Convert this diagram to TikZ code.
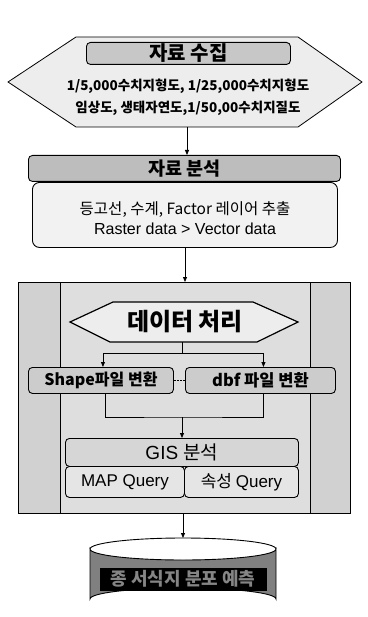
\documentclass[tikz,border=0pt]{standalone}
\usepackage{fontspec}
\setmainfont{Noto Sans CJK KR}
\newfontfamily\lat{Liberation Sans}
\usetikzlibrary{arrows.meta}
\definecolor{hexfill}{gray}{0.93}
\definecolor{titlefill}{gray}{0.78}
\definecolor{headfill}{gray}{0.74}
\definecolor{bodyfill}{gray}{0.95}
\definecolor{sidefill}{gray}{0.82}
\definecolor{midfill}{gray}{0.87}
\definecolor{boxfill}{gray}{0.80}
\definecolor{gisfill}{gray}{0.84}
\definecolor{qfill}{gray}{0.90}
\definecolor{cylfill}{gray}{0.50}
\definecolor{cyltext}{gray}{0.52}
\tikzset{
  arr/.style={-{Triangle[length=5pt,width=4pt]}, line width=0.8pt},
  ln/.style={line width=0.6pt},
  rbox/.style={draw, line width=0.9pt, rounded corners=4pt, inner sep=0pt, anchor=north west},
}
\begin{document}
\begin{tikzpicture}[x=1pt,y=-1pt]
\useasboundingbox (0,0) rectangle (367,617);
% top hexagon
\draw[fill=hexfill, line width=0.8pt] (8,82) -- (76,37) -- (298,37) -- (362,82) -- (298,127) -- (76,127) -- cycle;
\coordinate (hexb) at (187,127);
\node[rbox, fill=titlefill, minimum width=204pt, minimum height=22pt, font=\fontsize{20}{20}\selectfont\bfseries] (t1) at (86,42) {자료 수집};
\node[font=\fontsize{13.5}{14}\selectfont\bfseries] (l1) at (188,86) {1/5,000수치지형도, 1/25,000수치지형도};
\node[font=\fontsize{13.5}{14}\selectfont\bfseries] (l2) at (188,108) {임상도, 생태자연도,1/50,00수치지질도};
% analysis box
\node[rbox, fill=headfill, minimum width=312pt, minimum height=26pt, font=\fontsize{18.5}{18.5}\selectfont\bfseries] (h2) at (28,155) {자료 분석};
\node[rbox, fill=bodyfill, rounded corners=7pt, minimum width=305pt, minimum height=65pt] (b2) at (32,182) {};
\node[font=\fontsize{15.5}{16}\selectfont] (l3) at (185,210) {등고선, 수계, Factor 레이어 추출};
\node[font=\lat\fontsize{16}{16}\selectfont] (l4) at (185,229) {Raster data > Vector data};
\draw[arr] (hexb) -- (h2.north -| hexb);
% outer box
\fill[sidefill] (18,282) rectangle (350,513);
\fill[midfill] (60,282) rectangle (310,513);
\draw[line width=0.9pt] (18,282) rectangle (350,513);
\draw[ln] (60,282) -- (60,513);
\draw[ln] (310,282) -- (310,513);
\coordinate (outt) at (185,282);
\coordinate (outb) at (183,513);
\draw[arr] (b2.south -| outt) -- (outt);
% data hexagon
\draw[fill=hexfill, line width=1.2pt] (70,322) -- (113,302) -- (253,302) -- (298,322) -- (257,342) -- (110,342) -- cycle;
\node[font=\fontsize{24}{24}\selectfont\bfseries] (dp) at (185,322) {데이터 처리};
\coordinate (dpb) at (182,342);
\coordinate (split) at (182,353);
% conversion boxes
\node[rbox, fill=boxfill, minimum width=145pt, minimum height=26pt, font=\fontsize{16}{16}\selectfont\bfseries] (shp) at (28,367) {Shape파일 변환};
\node[rbox, fill=boxfill, minimum width=150pt, minimum height=26pt, font=\fontsize{16.5}{16.5}\selectfont\bfseries] (dbf) at (185,367) {dbf 파일 변환};
\draw[ln] (dpb) -- (split);
\draw[arr] (split) -| ([xshift=2pt]shp.north);
\draw[arr] (split) -| ([xshift=3pt]dbf.north);
\draw[ln, dash pattern=on 2pt off 1pt] (shp.east) -- (dbf.west);
\coordinate (merge) at (182,417);
\draw[ln] ([xshift=4pt]shp.south) |- (merge) -| ([xshift=3pt]dbf.south);
% GIS group
\node[rbox, fill=gisfill, minimum width=233pt, minimum height=28pt, font=\lat\fontsize{19}{19}\selectfont] (gis) at (65,438) {GIS {\rmfamily 분석}};
\node[rbox, fill=qfill, minimum width=119pt, minimum height=31pt, font=\lat\fontsize{17}{17}\selectfont] (mq) at (65,466) {MAP Query};
\node[rbox, fill=qfill, minimum width=114pt, minimum height=31pt, font=\fontsize{17}{17}\selectfont] (sq) at (184,466) {속성 {\lat Query}};
\draw[arr] (merge) -- (gis.north -| merge);
% cylinder
\coordinate (cylt) at (183,538);
\draw[arr] (outb) -- (cylt);
\draw[fill=cylfill, line width=0.9pt] (90,549) -- (90,599) arc[start angle=180, end angle=360, x radius=93, y radius=11] -- (276,549) arc[start angle=0, end angle=180, x radius=93, y radius=11] -- cycle;
\draw[line width=0.9pt] (90,549) arc[start angle=180, end angle=360, x radius=93, y radius=11];
\node[fill=black, minimum width=167pt, minimum height=23pt, inner sep=0pt, text=cyltext, font=\fontsize{18}{18}\selectfont\bfseries] (res) at (183,579) {종 서식지 분포 예측};
\end{tikzpicture}
\end{document}
